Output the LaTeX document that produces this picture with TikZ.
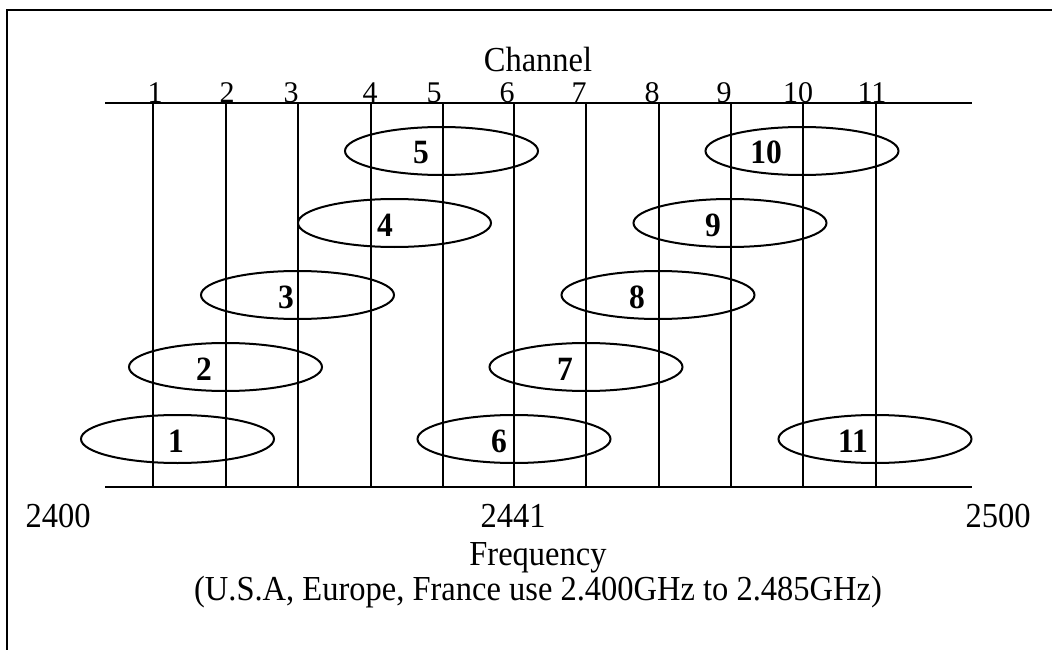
\documentclass[tikz,border=0pt]{standalone}
\usepackage{fontspec}
\setmainfont{Liberation Serif}
\usetikzlibrary{shapes.geometric}
\newcommand{\vstretch}[1]{\scalebox{1}[1.08]{#1}}
\begin{document}
\begin{tikzpicture}[x=1pt,y=-1pt,line width=2pt,
  txt/.style={inner sep=0pt,anchor=base,font=\fontsize{32.5}{38}\selectfont},
  num/.style={inner sep=0pt,anchor=base,font=\fontsize{30}{36}\selectfont},
  blab/.style={inner sep=0pt,anchor=base,font=\fontsize{31.5}{38}\selectfont\bfseries},
  chan/.style={draw,ellipse,inner sep=0pt,minimum width=193pt,minimum height=48pt}]
\useasboundingbox (0,0) rectangle (1052,650);
% frame (only top and left edges visible)
\coordinate (fl) at (7,650);
\coordinate (ftl) at (7,10);
\coordinate (ftr) at (1052,10);
\draw (fl) -- (ftl) -- (ftr);
% axes
\coordinate (tl) at (105,103); \coordinate (tr) at (972,103);
\coordinate (bl) at (105,487); \coordinate (br) at (972,487);
\draw (tl) -- (tr);
\draw (bl) -- (br);
% channel lines
\foreach \i/\x in {1/153,2/226,3/298,4/371,5/443,6/514,7/586,8/659,9/731,10/803,11/876}{
  \coordinate (vt\i) at (\x,103);
  \coordinate (vb\i) at (\x,487);
  \draw (vt\i) -- (vb\i);
}
% channel numbers
\foreach \i/\x in {1/155,2/227,3/291,4/370,5/434,6/507,7/579,8/652,9/724,10/798,11/872}{
  \node[num] (c\i) at (\x,102.5) {\i};
}
\node[txt] (chantitle) at (538,71.5) {\vstretch{Channel}};
% ellipses
\foreach \i/\x/\y in {1/177.5/439,2/225.5/367,3/297.5/295,4/394.5/223,5/441.5/151,6/514/439,7/586/367,8/658/295,9/730/223,10/802/151,11/875/439}{
  \node[chan] (e\i) at (\x,\y) {};
}
\foreach \i/\x/\y in {1/176/452,2/204/380,3/286/308,4/385/236,5/421/164,6/499/452,7/565/380,8/637/308,9/713/236,10/766/164,11/853/452}{
  \node[blab] (l\i) at (\x,\y) {\vstretch{\i}};
}
% frequency labels
\node[txt] (f2400) at (58,527) {\vstretch{2400}};
\node[txt] (f2441) at (513,527) {\vstretch{2441}};
\node[txt] (f2500) at (998,527) {\vstretch{2500}};
\node[txt] (freq) at (538,565) {\vstretch{Frequency}};
\node[txt] (note) at (538,600) {\vstretch{(U.S.A, Europe, France use 2.400GHz to 2.485GHz)}};
\end{tikzpicture}
\end{document}
